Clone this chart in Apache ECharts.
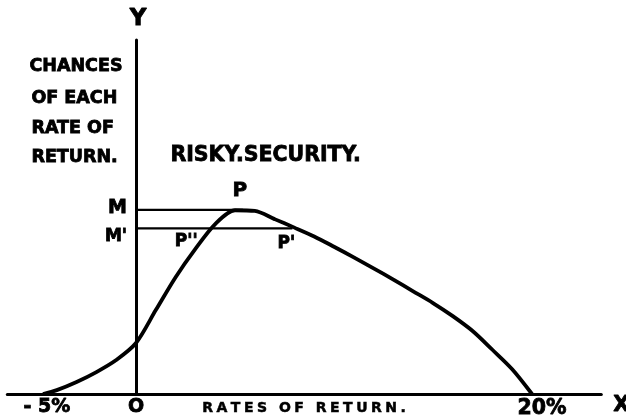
<!DOCTYPE html>
<html>
<head>
<meta charset="utf-8">
<script src="https://cdn.jsdelivr.net/npm/echarts@6/dist/echarts.min.js"></script>
<style>
  html, body { margin: 0; padding: 0; background: #fff; }
  #chart { width: 626px; height: 420px; }
</style>
</head>
<body>
<div id="chart"></div>
<script>
// Rate of return (%) and relative chance (arbitrary units)
const rates   = [-4.7, -4, -3, -2, -1, 0, 1, 2, 3, 4, 5, 6, 7, 8, 9, 10, 11, 12, 13, 14, 15, 16, 17, 18, 19, 20];
const chances = [0, 1.1, 3.4, 6.2, 9.6, 14.4, 23.7, 33.0, 41.0, 48.0, 51.9, 51.7, 49.4, 47.0, 44.5, 41.6, 38.6, 35.5, 32.3, 29.0, 25.7, 22.0, 17.8, 12.5, 7.0, 0];

// Levels M (most probable) and M' with the points where they meet the curve
const levelM = 52.0;
const levelM2 = 46.8;
const peakRate = 5.4;      // P
const rateP1 = 7.9;        // P'
const rateP2 = 3.8;        // P''

// Tick labels on the rate axis
const tickValues = [-5, 0, 20];
const tickLabels = ['- 5%', 'O', '20%'];

const yLabelLines = ['CHANCES', 'OF EACH', 'RATE OF', 'RETURN.'];
const titleText = 'RISKY.SECURITY.';
const xTitleText = 'R\u2005A\u2005T\u2005E\u2005S\u2002 O\u2005F\u2002 R\u2005E\u2005T\u2005U\u2005R\u2005N\u2005.';

const FONT = 'DejaVu Sans';
const chart = echarts.init(document.getElementById('chart'), null, { renderer: 'canvas' });

const curve = rates.map((r, i) => [r, chances[i]]);

const bold = (size, extra) => Object.assign({
  fontFamily: FONT, fontWeight: 'bold', fontSize: size, color: '#000',
  textBorderColor: '#000', textBorderWidth: 0.8
}, extra || {});

chart.setOption({
  backgroundColor: '#ffffff',
  animation: false,
  grid: { left: 7.3, right: 24.7, top: 40, bottom: 26, containLabel: false, outerBoundsMode: 'none' },
  xAxis: {
    type: 'value', min: -6.5, max: 23.5,
    splitLine: { show: false },
    axisLine: { show: true, onZero: true, lineStyle: { color: '#000', width: 3 } },
    axisTick: { show: false },
    axisLabel: {
      show: true,
      customValues: tickValues,
      margin: 4,
      formatter: function (v) {
        const i = tickValues.indexOf(v);
        if (i === 0) return '{a|' + tickLabels[0] + '}';
        if (i === 2) return '{c|' + tickLabels[2] + '}';
        return '{b|' + tickLabels[i] + '}';
      },
      rich: {
        a: bold(19, { padding: [0, 0, 0, 20] }),
        b: bold(19),
        c: bold(20.5, { padding: [0, 0, 0, 20] })
      }
    },
    name: 'X',
    nameLocation: 'end',
    nameGap: 12,
    nameTextStyle: bold(21, { verticalAlign: 'top', padding: [1, 0, 0, 0] })
  },
  yAxis: {
    type: 'value', min: 0, max: 100,
    splitLine: { show: false },
    axisLine: { show: true, onZero: true, lineStyle: { color: '#000', width: 3 } },
    axisTick: { show: false },
    axisLabel: { show: false },
    name: 'Y',
    nameLocation: 'end',
    nameGap: 9,
    nameTextStyle: bold(23, { padding: [0, 0, 0, 4], textBorderWidth: 1 })
  },
  series: [
    {
      type: 'line', name: 'curve', data: curve, smooth: 0.3,
      symbol: 'none', lineStyle: { color: '#000', width: 3.8 }, z: 3
    },
    {
      type: 'line', name: 'M', data: [[0, levelM], [peakRate, levelM]],
      symbol: 'none', lineStyle: { color: '#000', width: 2.2 },
      markPoint: {
        symbol: 'circle', symbolSize: 0,
        data: [{ coord: [0, levelM], label: Object.assign({ show: true, formatter: 'M', position: 'left', distance: 9, offset: [0, -2] }, bold(19)) },
          { coord: [peakRate, levelM], label: Object.assign({ show: true, formatter: 'P', position: 'top', distance: 9, offset: [-3, 0] }, bold(20)) }]
      }
    },
    {
      type: 'line', name: "M'", data: [[0, levelM2], [rateP1, levelM2]],
      symbol: 'none', lineStyle: { color: '#000', width: 2.2 },
      markPoint: {
        symbol: 'circle', symbolSize: 0,
        data: [{ coord: [0, levelM2], label: Object.assign({ show: true, formatter: "M'", position: 'left', distance: 9, offset: [0, 8] }, bold(17)) },
          { coord: [rateP2, levelM2], label: Object.assign({ show: true, formatter: "P''", position: 'bottom', distance: 5, offset: [-25, 0] }, bold(17)) },
          { coord: [rateP1, levelM2], label: Object.assign({ show: true, formatter: "P'", position: 'bottom', distance: 7, offset: [-6, 0] }, bold(17)) }]
      }
    }
  ],
  graphic: [
    { type: 'text', left: 29, top: 57, style: { text: yLabelLines[0], font: 'bold 17.5px "DejaVu Sans"', fill: '#000', stroke: '#000', lineWidth: 0.8 } },
    { type: 'text', left: 31, top: 89, style: { text: yLabelLines[1], font: 'bold 17.5px "DejaVu Sans"', fill: '#000', stroke: '#000', lineWidth: 0.8 } },
    { type: 'text', left: 31, top: 119, style: { text: yLabelLines[2], font: 'bold 17.5px "DejaVu Sans"', fill: '#000', stroke: '#000', lineWidth: 0.8 } },
    { type: 'text', left: 31, top: 148, style: { text: yLabelLines[3], font: 'bold 17.5px "DejaVu Sans"', fill: '#000', stroke: '#000', lineWidth: 0.8 } },
    { type: 'text', left: 170, top: 145, style: { text: titleText, font: 'bold 20.5px "DejaVu Sans"', fill: '#000', stroke: '#000', lineWidth: 0.8 } },
    { type: 'text', left: 202, top: 401, style: { text: xTitleText, font: 'bold 14px "DejaVu Sans"', fill: '#000', stroke: '#000', lineWidth: 0.5 } }
  ]
});
</script>
</body>
</html>
